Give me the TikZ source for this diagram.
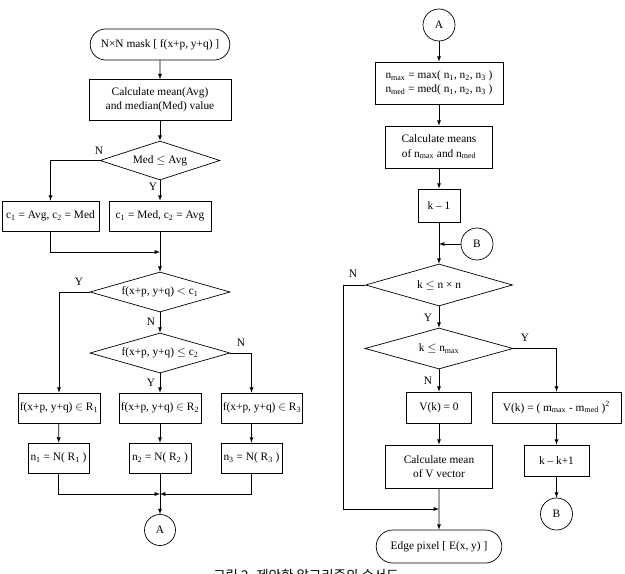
\documentclass[tikz,border=0pt]{standalone}
\usepackage{fontspec}
\setmainfont{Liberation Serif}
\newfontfamily\krfont{Noto Sans CJK KR}
\usepackage{tikz}
\usetikzlibrary{arrows, shapes.geometric, shapes.misc}

\begin{document}
\begin{tikzpicture}[x=0.3mm, y=-0.3mm, >=latex, line width=0.6pt,
  every node/.style={font=\fontsize{9.7}{12}\selectfont, align=center},
  proc/.style={draw, rectangle, inner sep=1pt},
  term/.style={draw, rounded rectangle, inner sep=1pt},
  dec/.style={draw, diamond, inner sep=0pt, aspect=3},
  conn/.style={draw, circle, inner sep=0pt},
  yn/.style={inner sep=0pt}]
\useasboundingbox (0,0) rectangle (625,574);
%left part
\node at (160,44.5) [term, minimum width=42.6mm, minimum height=9.3mm](start){N×N mask [ f(x+p, y+q) ]};
\node at (160,100) [proc, minimum width=42.6mm, minimum height=12.3mm](calc){Calculate mean(Avg)\\and median(Med) value};
\node at (160,160.5) [dec, minimum width=36mm, minimum height=11.7mm](medavg){Med $\leq$ Avg};
\node at (50.5,216) [proc, minimum width=29.1mm, minimum height=9mm](cavg){c\textsubscript{1} = Avg, c\textsubscript{2} = Med};
\node at (160,216) [proc, minimum width=30.6mm, minimum height=9mm](cmed){c\textsubscript{1} = Med, c\textsubscript{2} = Avg};
\coordinate (join1) at (160,252);
\node at (160,292) [dec, minimum width=42mm, minimum height=12mm](lessc1){f(x+p, y+q) $<$ c\textsubscript{1}};
\node at (160,353) [dec, minimum width=42mm, minimum height=12mm](lessc2){f(x+p, y+q) $\leq$ c\textsubscript{2}};
\node at (59,408) [proc, minimum width=24.6mm, minimum height=9mm](inr1){f(x+p, y+q) $\in$ R\textsubscript{1}};
\node at (160,408) [proc, minimum width=24.6mm, minimum height=9mm](inr2){f(x+p, y+q) $\in$ R\textsubscript{2}};
\node at (262,408) [proc, minimum width=24mm, minimum height=9mm](inr3){f(x+p, y+q) $\in$ R\textsubscript{3}};
\node at (58.5,458) [proc, minimum width=18.3mm, minimum height=9mm](cnt1){n\textsubscript{1} = N( R\textsubscript{1} )};
\node at (160,458) [proc, minimum width=18.6mm, minimum height=9mm](cnt2){n\textsubscript{2} = N( R\textsubscript{2} )};
\node at (251.5,458) [proc, minimum width=18.3mm, minimum height=9mm](cnt3){n\textsubscript{3} = N( R\textsubscript{3} )};
\coordinate (join2) at (160,494);
\node at (160,530) [conn, minimum size=9.3mm](outA){A};
\node at (99,151) [yn](lN1){N};
\node at (153,187) [yn](lY1){Y};
\node at (79,282) [yn](lY2){Y};
\node at (151,322) [yn](lN2){N};
\node at (241,343) [yn](lN3){N};
\node at (151,383) [yn](lY3){Y};
\draw[->] (start) -- (calc);
\draw[->] (calc) -- (medavg);
\draw[->] (medavg.west) -| (cavg.north);
\draw[->] (medavg) -- (cmed);
\draw[->] (cavg.south) |- (join1);
\draw (cmed) -- (join1);
\draw[->] (join1) -- (lessc1.north);
\draw[->] (lessc1.west) -| (inr1.north);
\draw[->] (lessc1) -- (lessc2);
\draw[->] (lessc2.east) -| (inr3.north -| cnt3);
\draw[->] (lessc2) -- (inr2);
\draw[->] (inr1) -- (cnt1);
\draw[->] (inr2) -- (cnt2);
\draw[->] (inr3.south -| cnt3) -- (cnt3);
\draw[->] (cnt1.south) |- (join2);
\draw[->] (cnt3.south) |- (join2);
\draw[->] (cnt2) -- (outA);
%right part
\node at (439,25) [conn, minimum size=9.6mm](inA){A};
\node at (439,83) [proc, minimum width=38.4mm, minimum height=12.6mm](nmaxmed){n\textsubscript{max} = max( n\textsubscript{1}, n\textsubscript{2}, n\textsubscript{3} )\\n\textsubscript{med} = med( n\textsubscript{1}, n\textsubscript{2}, n\textsubscript{3} )};
\node at (439,147) [proc, minimum width=32.1mm, minimum height=12.6mm](means){Calculate means\\of n\textsubscript{max} and n\textsubscript{med}};
\node at (439,205.5) [proc, minimum width=12.6mm, minimum height=9.9mm](kone){k -- 1};
\node at (477,244) [conn, minimum size=9.6mm](inB){B};
\node at (439,285) [dec, minimum width=44.1mm, minimum height=12.6mm](kloop){k $\leq$ n × n};
\node at (439,348.5) [dec, minimum width=44.4mm, minimum height=12.3mm](kmax){k $\leq$ n\textsubscript{max}};
\node at (439,407.5) [proc, minimum width=19.5mm, minimum height=9.3mm](vzero){V(k) = 0};
\node at (556.5,407.5) [proc, minimum width=38.7mm, minimum height=9.3mm](vsq){V(k) = ( m\textsubscript{max} - m\textsubscript{med} )\textsuperscript{2}};
\node at (439,466.5) [proc, minimum width=32.1mm, minimum height=12.9mm](vmean){Calculate mean\\of V vector};
\node at (556.5,460.5) [proc, minimum width=19.5mm, minimum height=9.3mm](kinc){k -- k+1};
\node at (556.5,514) [conn, minimum size=9.6mm](outB){B};
\node at (439,546.5) [term, minimum width=38.4mm, minimum height=9.9mm](edge){Edge pixel [ E(x, y) ]};
\coordinate (corner) at (343,509);
\coordinate (join3) at (439,509);
\node at (353,274) [yn](lN4){N};
\node at (428,318) [yn](lY4){Y};
\node at (525,338) [yn](lY5){Y};
\node at (428,381) [yn](lN5){N};
\draw[->] (inA) -- (nmaxmed);
\draw[->] (nmaxmed) -- (means);
\draw[->] (means) -- (kone);
\draw[->] (kone) -- (kloop);
\draw[->] (inB) -- (inB -| kone);
\draw[->] (kloop) -- (kmax);
\draw (kloop.west) -| (corner);
\draw[->] (corner) -- (join3);
\draw[->] (kmax) -- (vzero);
\draw[->] (kmax.east) -| (vsq);
\draw[->] (vzero) -- (vmean);
\draw[->] (vsq) -- (kinc);
\draw[->] (kinc) -- (outB);
\draw[->] (vmean) -- (edge);
%caption
\node at (306,568.5) [anchor=north, inner sep=0pt, font=\krfont\fontsize{11.5}{13}\selectfont](caption){그림 2. 제안한 알고리즘의 순서도};
\end{tikzpicture}
\end{document}
